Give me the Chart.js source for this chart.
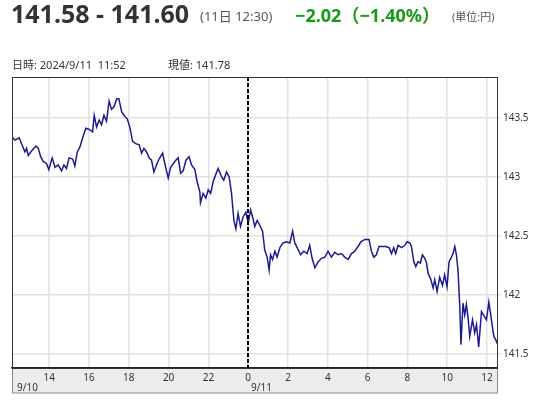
<!DOCTYPE html>
<html>
<head>
<meta charset="utf-8">
<script src="https://cdn.jsdelivr.net/npm/chart.js@4/dist/chart.umd.min.js"></script>
<style>
  body { margin: 0; background: #fff; font-family: "Noto Sans", "Noto Sans CJK JP", sans-serif; }
  #wrap { position: relative; width: 550px; height: 400px; overflow: hidden; }
  #chart { position: absolute; left: 0; top: 0; }
  .t { position: absolute; white-space: pre; line-height: 1; }
  #price { left: 11px; top: 1px; font-size: 25px; font-weight: bold; color: #333; }
  #time { left: 200px; top: 10px; font-size: 13px; color: #555; }
  #chg { left: 295px; top: 6px; font-size: 18px; font-weight: bold; color: #169b16; }
  #unit { left: 452px; top: 11px; font-size: 11px; color: #555; }
  #info1 { left: 12px; top: 59px; font-size: 11px; color: #333; }
  #info2 { left: 168px; top: 59px; font-size: 11px; color: #333; }
</style>
</head>
<body>
<div id="wrap">
  <canvas id="chart" width="550" height="400"></canvas>
  <div class="t" id="price">141.58 - 141.60</div>
  <div class="t" id="time">(11日 12:30)</div>
  <div class="t" id="chg">−2.02（−1.40%）</div>
  <div class="t" id="unit">(単位:円)</div>
  <div class="t" id="info1">日時: 2024/9/11  11:52</div>
  <div class="t" id="info2">現値: 141.78</div>
</div>
<script>
// hours counted from 9/10 00:00 (24 = 9/11 00:00)
let hours = [
	12.11, 12.28, 12.49, 12.61, 12.78, 12.86, 12.95, 13.12, 13.33, 13.45,
	13.57, 13.70, 13.87, 13.98, 14.15, 14.29, 14.45, 14.62, 14.74, 14.87,
	15.00, 15.18, 15.29, 15.41, 15.54, 15.68, 15.84, 16.01, 16.18, 16.26,
	16.38, 16.51, 16.63, 16.75, 16.88, 17.01, 17.13, 17.25, 17.39, 17.50,
	17.64, 17.80, 17.92, 18.05, 18.19, 18.35, 18.52, 18.64, 18.76, 18.89,
	19.02, 19.14, 19.26, 19.39, 19.52, 19.70, 19.81, 19.98, 20.10, 20.23,
	20.36, 20.48, 20.60, 20.73, 20.87, 21.03, 21.15, 21.32, 21.43, 21.57,
	21.60, 21.73, 21.87, 21.99, 22.11, 22.24, 22.37, 22.49, 22.66, 22.77,
	22.91, 23.04, 23.16, 23.28, 23.38, 23.49, 23.61, 23.74, 23.88, 24.00,
	24.12, 24.22, 24.33, 24.45, 24.58, 24.72, 24.83, 24.95, 25.05, 25.12,
	25.22, 25.34, 25.45, 25.59, 25.75, 25.92, 26.09, 26.23, 26.34, 26.46,
	26.63, 26.79, 26.96, 27.09, 27.21, 27.35, 27.51, 27.68, 27.85, 28.01,
	28.18, 28.35, 28.52, 28.69, 28.85, 29.02, 29.19, 29.35, 29.52, 29.66,
	29.86, 30.07, 30.19, 30.31, 30.44, 30.57, 30.75, 30.91, 31.08, 31.20,
	31.31, 31.41, 31.53, 31.70, 31.87, 31.98, 32.12, 32.20, 32.32, 32.42,
	32.53, 32.65, 32.75, 32.87, 32.96, 33.04, 33.16, 33.29, 33.37, 33.49,
	33.62, 33.76, 33.87, 33.99, 34.09, 34.21, 34.29, 34.38, 34.46, 34.54,
	34.63, 34.69, 34.79, 34.88, 34.96, 35.05, 35.13, 35.27, 35.38, 35.47,
	35.58, 35.72, 35.83, 35.97, 36.09, 36.17, 36.27, 36.34, 36.44, 36.50
];
let prices = [
	143.34, 143.31, 143.33, 143.28, 143.21, 143.24, 143.18, 143.22, 143.26, 143.24,
	143.17, 143.13, 143.11, 143.06, 143.16, 143.08, 143.10, 143.05, 143.10, 143.07,
	143.16, 143.15, 143.09, 143.21, 143.25, 143.33, 143.41, 143.40, 143.38, 143.52,
	143.42, 143.48, 143.44, 143.52, 143.47, 143.64, 143.57, 143.59, 143.66, 143.66,
	143.55, 143.51, 143.49, 143.42, 143.30, 143.28, 143.27, 143.20, 143.24, 143.21,
	143.16, 143.14, 143.04, 143.10, 143.15, 143.20, 143.11, 142.99, 143.08, 143.11,
	143.14, 143.16, 143.03, 143.05, 143.14, 143.17, 143.10, 143.06, 142.96, 142.87,
	142.78, 142.86, 142.82, 142.89, 142.86, 142.96, 143.02, 143.07, 143.00, 142.97,
	143.04, 143.00, 142.86, 142.63, 142.56, 142.69, 142.58, 142.66, 142.70, 142.61,
	142.72, 142.66, 142.58, 142.63, 142.59, 142.54, 142.38, 142.32, 142.21, 142.34,
	142.30, 142.37, 142.32, 142.40, 142.44, 142.45, 142.44, 142.54, 142.44, 142.40,
	142.34, 142.37, 142.35, 142.42, 142.31, 142.23, 142.28, 142.31, 142.32, 142.37,
	142.32, 142.36, 142.34, 142.35, 142.32, 142.30, 142.35, 142.37, 142.41, 142.45,
	142.47, 142.47, 142.37, 142.32, 142.34, 142.41, 142.41, 142.41, 142.40, 142.35,
	142.40, 142.35, 142.42, 142.40, 142.42, 142.45, 142.44, 142.41, 142.28, 142.24,
	142.28, 142.27, 142.34, 142.31, 142.27, 142.18, 142.14, 142.06, 142.13, 142.03,
	142.15, 142.08, 142.17, 142.07, 142.28, 142.32, 142.35, 142.41, 142.34, 142.21,
	141.90, 141.58, 141.93, 141.83, 141.92, 141.80, 141.65, 141.79, 141.68, 141.75,
	141.56, 141.86, 141.83, 141.79, 141.94, 141.85, 141.73, 141.65, 141.62, 141.59
];
let xTickHours = [14, 16, 18, 20, 22, 24, 26, 28, 30, 32, 34, 36];
let yTickValues = [141.5, 142, 142.5, 143, 143.5];
let dateLabels = ["9/10", "9/11"];
let dayBreak = 24;

let points = hours.map((h, i) => ({ x: h, y: prices[i] }));

let framePlugin = {
	id: "frame",
	beforeDraw: (chart) => {
		let { ctx, chartArea } = chart;
		ctx.save();
		ctx.fillStyle = "#ececec";
		ctx.fillRect(chartArea.left, chartArea.bottom, chartArea.right - chartArea.left, 25);
		ctx.strokeStyle = "#8a8a8a";
		ctx.lineWidth = 1;
		ctx.strokeRect(chartArea.left + 0.5, chartArea.bottom, chartArea.right - chartArea.left, 25);
		ctx.restore();
	},
	afterDatasetsDraw: (chart) => {
		let { ctx, chartArea, scales } = chart;
		let xb = Math.round(scales.x.getPixelForValue(dayBreak));
		ctx.save();
		ctx.strokeStyle = "#000";
		ctx.lineWidth = 2;
		ctx.setLineDash([4, 2]);
		ctx.beginPath();
		ctx.moveTo(xb, chartArea.top);
		ctx.lineTo(xb, chartArea.bottom);
		ctx.stroke();
		ctx.setLineDash([]);
		ctx.strokeStyle = "#333";
		ctx.lineWidth = 1;
		ctx.strokeRect(chartArea.left + 0.5, chartArea.top + 0.5, chartArea.right - chartArea.left, chartArea.bottom - chartArea.top);
		ctx.fillStyle = "#333";
		ctx.font = "10px 'Noto Sans'";
		ctx.textBaseline = "middle";
		ctx.textAlign = "left";
		ctx.fillText(dateLabels[0], chartArea.left + 5, chartArea.bottom + 20);
		ctx.fillText(dateLabels[1], xb + 3, chartArea.bottom + 20);
		ctx.restore();
	},
};

let ctx = document.getElementById("chart").getContext("2d");

new Chart(ctx, {
	type: "line",
	data: {
		datasets: [
			{
				data: points,
				borderColor: "#1c1c90",
				borderWidth: 1.5,
				pointRadius: 0,
				tension: 0,
			},
		],
	},
	options: {
		animation: false,
		responsive: false,
		layout: { padding: { left: 12, top: 77, right: 0, bottom: 0 } },
		plugins: {
			legend: { display: false },
			tooltip: { enabled: false },
		},
		scales: {
			x: {
				type: "linear",
				min: 12.13,
				max: 36.5,
				afterBuildTicks: (scale) => {
					scale.ticks = xTickHours.map((v) => ({ value: v }));
				},
				afterFit: (scale) => {
					scale.height = 32;
				},
				grid: { color: "#e2e2e2", lineWidth: 1.5, drawTicks: false },
				border: { color: "#222", width: 1.5 },
				ticks: {
					padding: 4,
					color: "#333",
					font: { family: "Noto Sans", size: 10 },
					maxRotation: 0,
					autoSkip: false,
					callback: (v) => String(v % 24),
				},
			},
			y: {
				position: "right",
				min: 141.382,
				max: 143.844,
				afterBuildTicks: (scale) => {
					scale.ticks = yTickValues.map((v) => ({ value: v }));
				},
				afterFit: (scale) => {
					scale.width = 53;
				},
				grid: { color: "#e2e2e2", lineWidth: 1.5, tickLength: 4 },
				border: { color: "#444", width: 1 },
				ticks: {
					padding: 2,
					color: "#333",
					font: { family: "Noto Sans", size: 10 },
					callback: (v) => String(v),
				},
			},
		},
	},
	plugins: [framePlugin],
});
</script>
</body>
</html>
